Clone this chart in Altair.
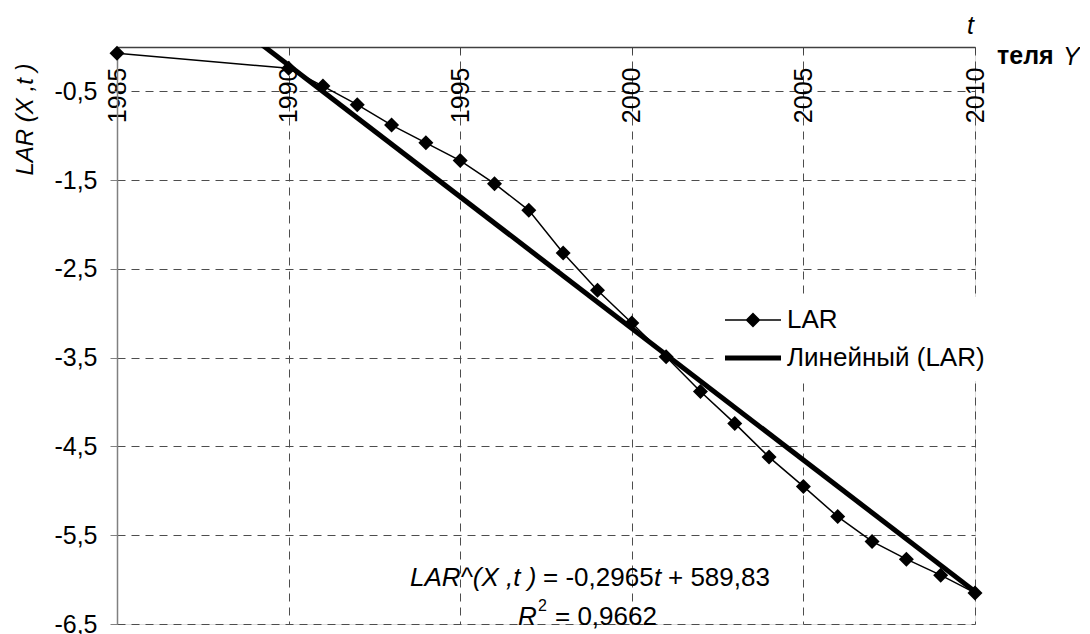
import altair as alt
import pandas as pd

# ---------------- data ----------------
years = [1985, 1990, 1991, 1992, 1993, 1994, 1995, 1996, 1997, 1998, 1999, 2000,
         2001, 2002, 2003, 2004, 2005, 2006, 2007, 2008, 2009, 2010]
lar_values = [-0.07, -0.24, -0.44, -0.65, -0.88, -1.08, -1.28, -1.54, -1.84, -2.32, -2.74, -3.11,
              -3.49, -3.88, -4.24, -4.62, -4.95, -5.29, -5.57, -5.77, -5.95, -6.15]
series_names = ["LAR", "Линейный (LAR)"]
trend_years = [1985, 2010]
trend_slope = -0.2965
trend_intercept = 589.83
x_ticks = [1985, 1990, 1995, 2000, 2005, 2010]
y_ticks = [-0.5, -1.5, -2.5, -3.5, -4.5, -5.5, -6.5]
x_domain = [1985, 2010]
y_domain = [-6.5, 0]

# ---------------- layout ----------------
W, H = 858, 577
PAD_L, PAD_T = 109, 39
X0, Y0 = 8 + PAD_L, 8 + PAD_T
FONT = "Liberation Sans"
GRID = "#4d4d4d"

df = pd.DataFrame({"t": years, "LAR": lar_values})
trend_df = pd.DataFrame({"t": trend_years,
                         "LAR": [trend_slope * t + trend_intercept for t in trend_years]})

x_scale = alt.Scale(domain=x_domain, nice=False, zero=False)
y_scale = alt.Scale(domain=y_domain, nice=False, zero=False)

x_axis = alt.Axis(
    orient="bottom", offset=-H, values=x_ticks, format="d",
    labelAngle=-90, labelAlign="right", labelBaseline="middle",
    labelFont=FONT, labelFontSize=25, labelColor="black", labelPadding=14,
    labelFlush=False, labelOverlap=False,
    tickSize=6, tickColor="#404040", domainColor="#404040", domainWidth=1.5,
    grid=True, gridDash=[8, 6], gridColor=GRID, gridWidth=1,
    title="t", titleFont=FONT, titleFontSize=25, titleFontStyle="italic",
    titleFontWeight="normal", titleColor="black",
    titleX=853, titleY=-22, titleAngle=0, titleAlign="center", titleBaseline="middle",
)
y_axis = alt.Axis(
    orient="left", values=y_ticks,
    labelExpr="replace(toString(datum.value), '.', ',')",
    labelFont=FONT, labelFontSize=25, labelColor="black", labelPadding=13,
    labelFlush=False, labelOverlap=False,
    tickSize=7, tickColor="#808080", domainColor="#808080", domainWidth=1.5,
    grid=True, gridDash=[8, 6], gridColor=GRID, gridWidth=1,
    title="LAR (X ,t )", titleFont=FONT, titleFontSize=24, titleFontStyle="italic",
    titleFontWeight="normal", titleColor="black",
    titleX=25 - X0, titleY=119 - Y0, titleAngle=-90, titleAlign="center", titleBaseline="middle",
)

base = alt.Chart(df).encode(
    x=alt.X("t:Q", scale=x_scale, axis=x_axis),
    y=alt.Y("LAR:Q", scale=y_scale, axis=y_axis),
)
lar_line = base.mark_line(color="black", strokeWidth=1.5)
lar_pts = base.mark_point(shape="diamond", filled=True, size=225, color="black", opacity=1)

trend = alt.Chart(trend_df).mark_line(color="black", strokeWidth=5, clip=True).encode(
    x=alt.X("t:Q", scale=x_scale),
    y=alt.Y("LAR:Q", scale=y_scale),
)

# legend symbols (unit = 12 px): line with a diamond, and a thick line
path_lar = "M-1,-0.0625H3.667V0.0625H-1Z M1.333,-0.625L1.958,0L1.333,0.625L0.708,0Z"
path_lin = "M-1,-0.208H3.667V0.208H-1Z"
legend_layer = alt.Chart(pd.DataFrame({"series": series_names})).mark_point(
    filled=True, color="black", opacity=1, clip=True
).encode(
    x=alt.value(-1000), y=alt.value(-1000),
    shape=alt.Shape(
        "series:N",
        scale=alt.Scale(domain=series_names, range=[path_lar, path_lin]),
        legend=alt.Legend(
            title=None, orient="none", legendX=714 - X0, legendY=297 - Y0,
            labelFont=FONT, labelFontSize=26, labelColor="black", labelLimit=400,
            symbolSize=576, symbolStrokeWidth=0, symbolFillColor="black",
            fillColor="white", padding=10, rowPadding=12, labelOffset=37,
        ),
    ),
)


def label(text, px, py, size=26, style="normal", weight="normal", align="left"):
    return alt.Chart(pd.DataFrame({"txt": [text]})).mark_text(
        align=align, baseline="alphabetic", font=FONT, fontSize=size,
        fontStyle=style, fontWeight=weight, color="black",
    ).encode(x=alt.value(px - X0), y=alt.value(py - Y0), text="txt:N")


texts = [
    label("LAR^(X ,t )", 410, 586, style="italic"),
    label("= -0,2965", 543, 586),
    label("t", 654, 586, style="italic"),
    label("+ 589,83", 668, 586),
    label("R", 518, 625, style="italic"),
    label("2", 538, 611, size=16),
    label("= 0,9662", 555, 625),
    label("теля", 997, 64, size=25, weight="bold"),
    label("Y", 1063, 65, size=25, style="italic"),
]

chart = alt.layer(lar_line, lar_pts, trend, legend_layer, *texts).properties(
    width=W, height=H,
    autosize=alt.AutoSizeParams(type="none"),
    padding={"left": PAD_L, "top": PAD_T, "right": 1090 - 16 - PAD_L - W - 2, "bottom": 12},
).configure_view(strokeWidth=0).configure(background="white")

chart.save("out.html", embed_options={"renderer": "svg", "actions": False})
